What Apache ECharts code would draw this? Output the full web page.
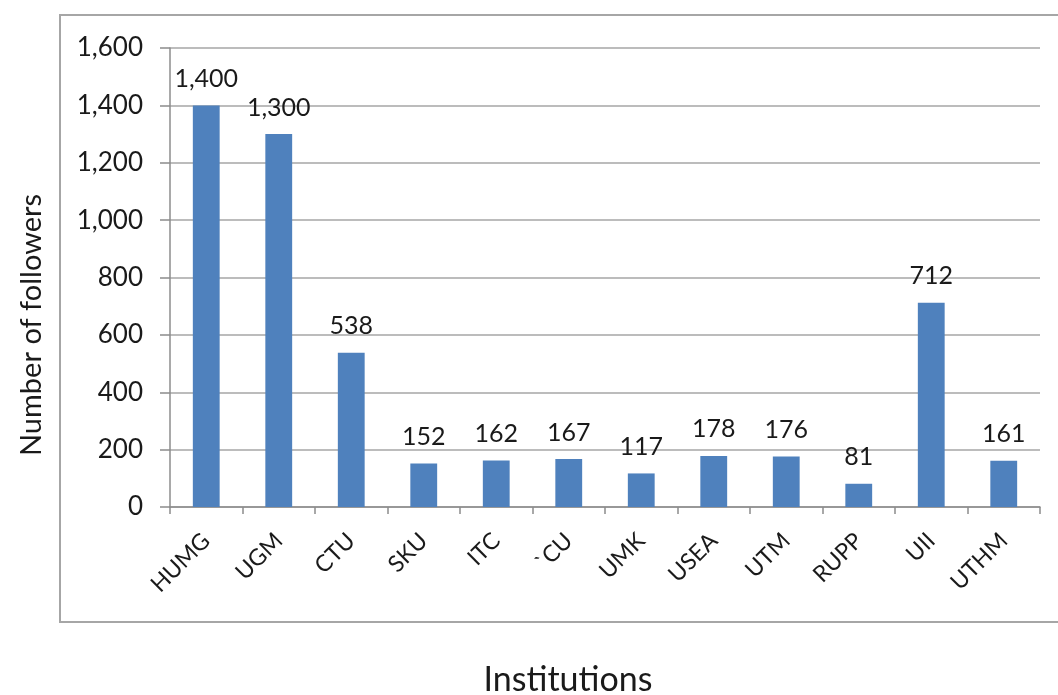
<!DOCTYPE html>
<html><head><meta charset="utf-8">
<script src="https://cdn.jsdelivr.net/npm/echarts@6/dist/echarts.min.js"></script>
<style>html,body{margin:0;padding:0;background:#fff}#c{width:1058px;height:695px}</style>
</head><body><div id="c"></div>
<script>
const categories = ['HUMG','UGM','CTU','SKU','ITC','`CU','UMK','USEA','UTM','RUPP','UII','UTHM'];
const followers = [1400,1300,538,152,162,167,117,178,176,81,712,161];
const yTicks = {min:0, max:1600, interval:200};
const yTitle = 'Number of followers';
const xTitle = 'Institutions';

const FONT = 'Lato, "Open Sans", sans-serif';
const fmt = v => Number(v).toLocaleString('en-US');
const chart = echarts.init(document.getElementById('c'), null, {renderer:'canvas'});
chart.setOption({
  animation:false,
  backgroundColor:'#fff',
  textStyle:{fontFamily:FONT},
  graphic:[
    {type:'rect', shape:{x:60,y:15,width:1020,height:607}, style:{fill:'none', stroke:'#a6a6a6', lineWidth:2}, z:-10},
    {type:'text', x:568, y:680, style:{text:xTitle, font:'34px '+FONT, fill:'#1a1a1a', align:'center', verticalAlign:'middle'}},
    {type:'text', x:32, y:325, rotation:Math.PI/2, style:{text:yTitle, font:'29px '+FONT, fill:'#1a1a1a', align:'center', verticalAlign:'middle'}},
  ],
  grid:{left:170, right:18, top:48, bottom:188},
  xAxis:{
    type:'category', data:categories,
    axisLine:{lineStyle:{color:'#8c8c8c', width:1.5}},
    axisTick:{show:true, length:7, lineStyle:{color:'#8c8c8c', width:1.5}},
    axisLabel:{rotate:45, fontSize:23, color:'#1a1a1a', fontFamily:FONT, margin:30, interval:0},
  },
  yAxis:{
    type:'value', min:yTicks.min, max:yTicks.max, interval:yTicks.interval,
    axisLine:{show:true, lineStyle:{color:'#8c8c8c', width:1.5}},
    axisTick:{show:true, length:10, inside:false, lineStyle:{color:'#8c8c8c', width:1.5}},
    axisLabel:{formatter:fmt, fontSize:26, color:'#1a1a1a', fontFamily:FONT, margin:27},
    splitLine:{lineStyle:{color:'#a6a6a6', width:1.5}},
  },
  series:[{
    type:'bar', data:followers, barWidth:'37%',
    itemStyle:{color:'#4f81bd'},
    label:{show:true, position:'top', distance:14, formatter:p=>fmt(p.value), fontSize:25, color:'#1a1a1a', fontFamily:FONT},
  }],
});
</script></body></html>
